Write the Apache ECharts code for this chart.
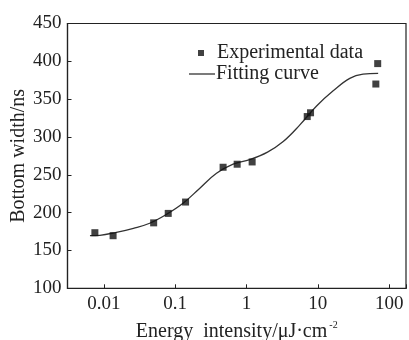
<!DOCTYPE html>
<html>
<head>
<meta charset="utf-8">
<script src="https://cdn.jsdelivr.net/npm/echarts@6/dist/echarts.min.js"></script>
<style>
  html, body { margin: 0; padding: 0; background: #fff; }
  #chart { width: 409px; height: 340px; }
</style>
</head>
<body>
<div id="chart"></div>
<script>
// measured points (energy in uJ/cm^2, bottom width in ns)
var expX = [0.0075, 0.0135, 0.050, 0.080, 0.14, 0.47, 0.74, 1.2, 7.1, 7.9, 69, 65];
var expY = [173.5, 169.5, 186.5, 199, 214, 260, 264, 267, 327, 332, 397, 370];

// fitting curve
var fitX = [0.0064, 0.0088, 0.015, 0.026, 0.044, 0.076, 0.129, 0.22, 0.38, 0.65, 1.11, 1.97, 3.27, 5.6, 9.6, 16.4, 28, 43, 70];
var fitY = [169.5, 170, 174, 179.3, 186, 197.8, 212.3, 232, 252, 264, 270, 280, 294, 316, 341, 361, 377.5, 383, 384];

var xTickLabels = ['0.01', '0.1', '1', '10', '100'];

var font = 'Liberation Serif';
var ink = '#222';

function pairs(xs, ys) {
  return xs.map(function (x, i) { return [x, ys[i]]; });
}

var chart = echarts.init(document.getElementById('chart'));
chart.setOption({
  animation: false,
  backgroundColor: '#fff',
  textStyle: { fontFamily: font, color: ink },
  grid: {
    left: 67.5, right: 3, top: 23.5, bottom: 51.7,
    containLabel: false,
    outerBoundsMode: 'none',
    show: true,
    borderColor: ink,
    borderWidth: 1.2
  },
  legend: [
    {
      data: [{ name: 'Experimental data', icon: 'rect' }],
      left: 198, top: 42, padding: 0,
      itemWidth: 6, itemHeight: 6,
      textStyle: { fontFamily: font, fontSize: 20, color: ink, lineHeight: 22, padding: [0, 0, 0, 8] }
    },
    {
      data: [{ name: 'Fitting curve', icon: 'rect' }],
      left: 189, top: 63, padding: 0,
      itemWidth: 26, itemHeight: 1.3,
      textStyle: { fontFamily: font, fontSize: 20, color: ink, lineHeight: 22, padding: [0, 0, 0, -4] }
    }
  ],
  xAxis: {
    type: 'log',
    logBase: 10,
    min: 0.0031,
    max: 172,
    name: 'Energy  intensity/μJ·cm{sup|-2}',
    nameLocation: 'middle',
    nameGap: 32,
    nameMoveOverlap: false,
    nameTextStyle: {
      fontFamily: font, fontSize: 20, color: ink,
      rich: { sup: { fontFamily: font, fontSize: 10, color: ink, verticalAlign: 'top', padding: [0, 0, 12, 2] } }
    },
    splitLine: { show: false },
    minorTick: { show: false },
    axisLine: { lineStyle: { color: ink, width: 1.2 } },
    axisTick: { inside: true, length: 4, lineStyle: { color: ink } },
    axisLabel: {
      fontFamily: font, fontSize: 19, color: ink, margin: 6,
      showMinLabel: true, showMaxLabel: true,
      formatter: function (v) {
        var e = Math.log10(v);
        var r = Math.round(e);
        if (Math.abs(e - r) > 1e-6) return '';
        return xTickLabels[r + 2] || '';
      }
    }
  },
  yAxis: {
    type: 'value',
    min: 100,
    max: 450,
    interval: 50,
    name: 'Bottom width/ns',
    nameLocation: 'middle',
    nameGap: 39,
    nameMoveOverlap: false,
    nameTextStyle: { fontFamily: font, fontSize: 20, color: ink },
    splitLine: { show: false },
    axisLine: { show: true, lineStyle: { color: ink, width: 1.2 } },
    axisTick: { inside: true, length: 4, lineStyle: { color: ink } },
    axisLabel: { fontFamily: font, fontSize: 19, color: ink, margin: 6 }
  },
  series: [
    {
      name: 'Experimental data',
      type: 'scatter',
      symbol: 'rect',
      symbolSize: 7,
      itemStyle: { color: '#111' },
      data: pairs(expX, expY),
      z: 3
    },
    {
      name: 'Fitting curve',
      type: 'line',
      smooth: 0.4,
      symbol: 'none',
      lineStyle: { color: '#333', width: 1.3 },
      itemStyle: { color: '#333' },
      data: pairs(fitX, fitY),
      z: 2
    }
  ]
});
</script>
</body>
</html>
